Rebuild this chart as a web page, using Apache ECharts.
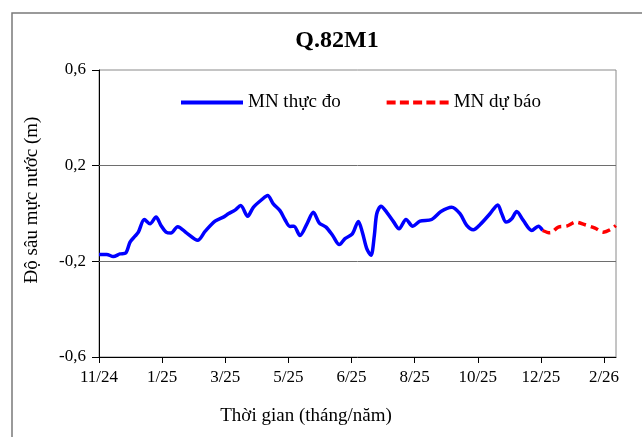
<!DOCTYPE html>
<html>
<head>
<meta charset="utf-8">
<script src="https://cdn.jsdelivr.net/npm/echarts@6/dist/echarts.min.js"></script>
<style>
  html, body { margin: 0; padding: 0; background: #fff; }
  #chart { width: 642px; height: 437px; }
</style>
</head>
<body>
<div id="chart"></div>
<script>
// Days counted from the first x-axis tick (11/24); one tick every 60 days
const tickLabels = ['11/24', '1/25', '3/25', '5/25', '6/25', '8/25', '10/25', '12/25', '2/26'];
const tickStep = 60;
const xMax = 491.4;

const yTicks = [-0.6, -0.2, 0.2, 0.6];
const yGridLines = [-0.2, 0.2];

const actualDays = [0, 7.3, 13.6, 20, 25.4, 29.5, 34.2, 37.4, 43.1, 48.5, 54.2, 58.9, 63.7, 68.4, 74.8, 83.4, 93.8, 100.8, 110.3, 119.1,
  122.9, 129.3, 134.7, 141.3, 146.7, 154.7, 160.3, 165.7, 172, 176.8, 181.5, 185.3, 191, 198, 203.7, 209.4, 215.8, 222.1, 228.4, 233.8,
  240.8, 246.5, 250.3, 254.5, 258.5, 261.7, 264, 268, 273.5, 279.7, 285.2, 291.8, 298.2, 305.1, 316.2, 325, 335.2, 343.1, 349.5, 355.8,
  362.1, 371.6, 379, 382.8, 386.9, 392.3, 397, 403.3, 411.3, 417.6, 421.7];
const actualValues = [-0.171, -0.171, -0.18, -0.169, -0.165, -0.12, -0.095, -0.078, -0.025, -0.043, -0.015, -0.05, -0.078, -0.082, -0.055, -0.082, -0.112, -0.075, -0.032, -0.013,
  -0.001, 0.014, 0.033, -0.011, 0.026, 0.058, 0.075, 0.04, 0.012, -0.026, -0.054, -0.053, -0.092, -0.04, 0.005, -0.04, -0.057, -0.092, -0.13, -0.105,
  -0.085, -0.033, -0.078, -0.147, -0.175, -0.092, -0.001, 0.03, 0.005, -0.033, -0.064, -0.025, -0.053, -0.032, -0.025, 0.008, 0.026, -0.001, -0.05, -0.068,
  -0.047, -0.001, 0.036, -0.001, -0.036, -0.022, 0.008, -0.029, -0.071, -0.053, -0.071];

const forecastDays = [421.7, 428.7, 436.6, 444.5, 453.4, 462, 471.5, 479.4, 485.8, 491.2];
const forecastValues = [-0.071, -0.081, -0.057, -0.053, -0.036, -0.047, -0.061, -0.078, -0.068, -0.05];

const seriesNames = ['MN thực đo', 'MN dự báo'];
const titleText = 'Q.82M1';
const xName = 'Thời gian (tháng/năm)';
const yName = 'Độ sâu mực nước (m)';

const serif = '"Liberation Serif", "DejaVu Serif", serif';
const pairs = (xs, ys) => xs.map((x, i) => [x, ys[i]]);

const solidIcon = 'path://M0,0h62v4h-62z';
const dashIcon = 'path://M0,0h9v4h-9z M13.25,0h9v4h-9z M26.5,0h9v4h-9z M39.75,0h9v4h-9z M53,0h9v4h-9z';

const chart = echarts.init(document.getElementById('chart'), null, { renderer: 'canvas' });
chart.setOption({
  animation: false,
  backgroundColor: '#ffffff',
  title: {
    text: titleText,
    left: 332, top: 24, textAlign: 'center',
    textStyle: { fontFamily: serif, fontSize: 24, fontWeight: 'bold', color: '#000' }
  },
  legend: {
    left: 176, top: 88,
    itemWidth: 62, itemHeight: 4, itemGap: 46,
    textStyle: { fontFamily: serif, fontSize: 19, color: '#000' },
    data: [
      { name: seriesNames[0], icon: solidIcon },
      { name: seriesNames[1], icon: dashIcon }
    ]
  },
  grid: {
    left: 99, right: 26, top: 70, bottom: 80,
    show: true, borderColor: '#8a8a8a', borderWidth: 1
  },
  xAxis: {
    type: 'value', min: 0, max: xMax,
    axisLine: { onZero: false, lineStyle: { color: '#000', width: 1 } },
    axisTick: { show: true, length: 6, lineStyle: { color: '#000' }, customValues: tickLabels.map((_, i) => i * tickStep) },
    axisLabel: {
      customValues: tickLabels.map((_, i) => i * tickStep),
      formatter: v => tickLabels[Math.round(v / tickStep)] || '',
      fontFamily: serif, fontSize: 17, color: '#000', margin: 12
    },
    splitLine: { show: false }
  },
  yAxis: {
    type: 'value', min: -0.6, max: 0.6,
    axisLine: { show: true, onZero: false, lineStyle: { color: '#000', width: 1 } },
    axisTick: { show: true, length: 7, lineStyle: { color: '#000' }, customValues: yTicks },
    axisLabel: {
      customValues: yTicks,
      formatter: v => v.toFixed(1).replace('.', ','),
      fontFamily: serif, fontSize: 17, color: '#000', margin: 13
    },
    splitLine: { show: false }
  },
  graphic: [
    { type: 'rect', shape: { x: 12, y: 13, width: 700, height: 500 }, style: { fill: 'none', stroke: '#7a7a7a', lineWidth: 1.5 }, silent: true, z: -1 },
    { type: 'text', x: 32, y: 200, rotation: Math.PI / 2,
      style: { text: yName, fontFamily: serif, fontSize: 19, fill: '#000', textAlign: 'center', textVerticalAlign: 'middle' } },
    { type: 'text', x: 306, y: 416,
      style: { text: xName, fontFamily: serif, fontSize: 19, fill: '#000', textAlign: 'center', textVerticalAlign: 'middle' } }
  ],
  series: [
    {
      name: seriesNames[0], type: 'line', smooth: 0.3, symbol: 'none', z: 3,
      lineStyle: { color: '#0000ff', width: 3.5 }, itemStyle: { color: '#0000ff' },
      data: pairs(actualDays, actualValues),
      markLine: {
        silent: true, symbol: ['none', 'none'], label: { show: false }, z: 1,
        lineStyle: { color: '#6e6e6e', width: 1, type: 'solid' },
        data: yGridLines.map(v => ({ yAxis: v }))
      }
    },
    {
      name: seriesNames[1], type: 'line', smooth: 0.3, symbol: 'none', z: 3,
      lineStyle: { color: '#ff0000', width: 3.5, type: [8, 5] }, itemStyle: { color: '#ff0000' },
      data: pairs(forecastDays, forecastValues)
    }
  ]
});
</script>
</body>
</html>
